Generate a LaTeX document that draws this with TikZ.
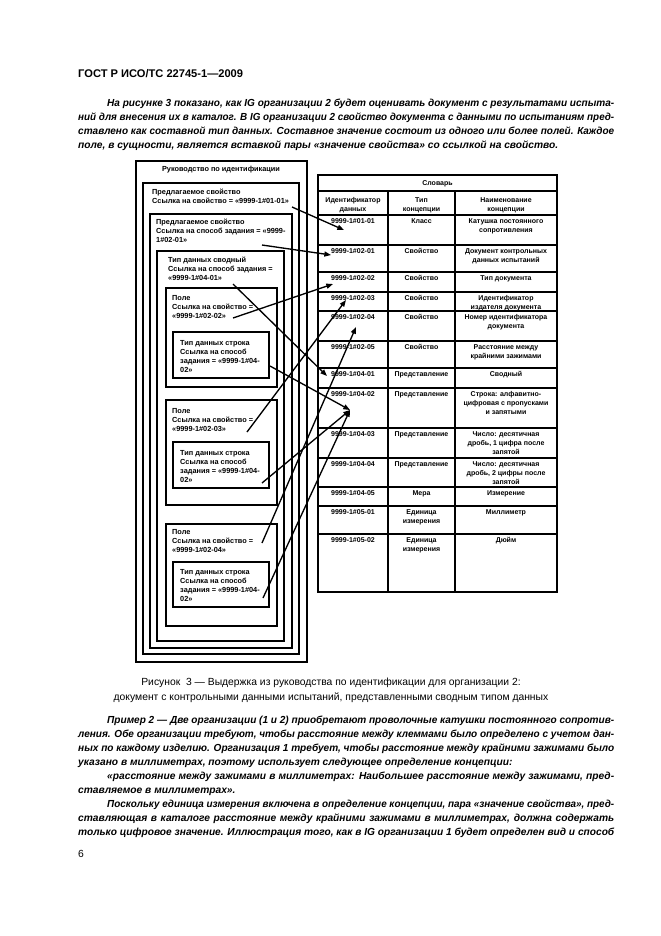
\documentclass[tikz,border=0pt]{standalone}
\usepackage{fontspec}
\usepackage{graphicx}
\setmainfont{Liberation Sans}
\usetikzlibrary{arrows.meta}

% one justified text line of a given width
\newlength\fitw
\newcommand\fitline[2]{\settowidth\fitw{#2}\ifdim\fitw>#1\relax\resizebox{#1}{\height}{#2}\else\makebox[#1][s]{#2}\fi}

\tikzset{
  body/.style={anchor=base west, inner sep=0pt, font=\fontsize{9.2}{11}\selectfont\bfseries\itshape},
  capt/.style={anchor=base, inner sep=0pt, font=\fontsize{9.3}{11}\selectfont},
  frame/.style={line width=1.7pt},
  grid/.style={line width=1.4pt},
  link/.style={line width=1.2pt, -{Triangle[length=6pt,width=4.5pt]}},
  boxtext/.style={anchor=north west, inner sep=0pt, align=left, font=\fontsize{6.6}{8.1}\selectfont\bfseries},
  cell/.style={anchor=north, inner sep=0pt, align=center, font=\fontsize{6.3}{8.1}\selectfont\bfseries},
}

\begin{document}
\begin{tikzpicture}[x=0.9pt,y=-0.9pt]
    \fill[white] (0,0) rectangle (661,936);
    \useasboundingbox (0,0) rectangle (661,936);

    % page text above the figure
    \node[anchor=base west, inner sep=0pt, font=\fontsize{10}{12}\selectfont\bfseries] (head) at (78,77) {ГОСТ Р ИСО/ТС 22745-1—2009};
    \node[body] (par1a) at (107,106.5) {\fitline{456.3pt}{На рисунке 3 показано, как IG организации 2 будет оценивать документ с результатами испыта-}};
    \node[body] (par1b) at (78,120.5) {\fitline{482.4pt}{ний для внесения их в каталог. В IG организации 2 свойство документа с данными по испытаниям пред-}};
    \node[body] (par1c) at (78,134.5) {\fitline{482.4pt}{ставлено как составной тип данных. Составное значение состоит из одного или более полей. Каждое}};
    \node[body] (par1d) at (78,148.5) {поле, в сущности, является вставкой пары «значение свойства» со ссылкой на свойство.};

    % nested frames of the guide
    \draw[frame] (136,161) rectangle (307,662);
    \draw[frame] (143,183) rectangle (299,654);
    \draw[frame] (150,214) rectangle (292,648);
    \draw[frame] (157,251) rectangle (284,641);
    \draw[frame] (166,288) rectangle (277,387);
    \draw[frame] (173,332) rectangle (269,378);
    \draw[frame] (166,400) rectangle (277,505);
    \draw[frame] (173,442) rectangle (269,488);
    \draw[frame] (166,524) rectangle (277,626);
    \draw[frame] (173,562) rectangle (269,607);

    \node[boxtext, anchor=north] (guide) at (221,166) {Руководство по идентификации};
    \node[boxtext] (prop1) at (152,189) {Предлагаемое свойство\\Ссылка на свойство = «9999-1\#01-01»};
    \node[boxtext] (prop2) at (156,219) {Предлагаемое свойство\\Ссылка на способ задания = «9999-\\1\#02-01»};
    \node[boxtext] (comp) at (168,257) {Тип данных сводный\\Ссылка на способ задания =\\«9999-1\#04-01»};
    \node[boxtext] (field1) at (172,295) {Поле\\Ссылка на свойство =\\«9999-1\#02-02»};
    \node[boxtext] (str1) at (180,340) {Тип данных строка\\Ссылка на способ\\задания = «9999-1\#04-\\02»};
    \node[boxtext] (field2) at (172,408) {Поле\\Ссылка на свойство =\\«9999-1\#02-03»};
    \node[boxtext] (str2) at (180,450) {Тип данных строка\\Ссылка на способ\\задания = «9999-1\#04-\\02»};
    \node[boxtext] (field3) at (172,529) {Поле\\Ссылка на свойство =\\«9999-1\#02-04»};
    \node[boxtext] (str3) at (180,569) {Тип данных строка\\Ссылка на способ\\задания = «9999-1\#04-\\02»};

    % dictionary table
    \draw[frame] (318,175) rectangle (557,592);
    \draw[grid] (318,191) -- (557,191);
    \draw[grid] (388,191) -- (388,592);
    \draw[grid] (455,191) -- (455,592);
    \foreach \ry in {215,245,272,292,311,341,368,388,428,458,487,506,534}
        \draw[grid] (318,\ry) -- (557,\ry);
    \node[cell] (dict) at (437.5,180) {Словарь};
    \node[cell] (hid) at (353,197) {Идентификатор\\данных};
    \node[cell] (hkind) at (421.5,197) {Тип\\концепции};
    \node[cell] (hname) at (506,197) {Наименование\\концепции};
    \foreach \ry/\id/\kind/\name in {
        215/01-01/Класс/{Катушка постоянного\\сопротивления},
        245/02-01/Свойство/{Документ контрольных\\данных испытаний},
        272/02-02/Свойство/{Тип документа},
        292/02-03/Свойство/{Идентификатор\\издателя документа},
        311/02-04/Свойство/{Номер идентификатора\\документа},
        341/02-05/Свойство/{Расстояние между\\крайними зажимами},
        368/04-01/Представление/{Сводный},
        388/04-02/Представление/{Строка: алфавитно-\\цифровая с пропусками\\и запятыми},
        428/04-03/Представление/{Число: десятичная\\дробь, 1 цифра после\\запятой},
        458/04-04/Представление/{Число: десятичная\\дробь, 2 цифры после\\запятой},
        487/04-05/Мера/{Измерение},
        506/05-01/{Единица\\измерения}/{Миллиметр},
        534/05-02/{Единица\\измерения}/{Дюйм}}
    {
        \node[cell] (id\id) at (353,\ry+3) {9999-1\#\id};
        \node[cell] (kind\id) at (421.5,\ry+3) {\kind};
        \node[cell] (name\id) at (506,\ry+3) {\name};
    }

    % references into the table
    \coordinate (prop1ref) at (292,207);
    \coordinate (prop2ref) at (262,245);
    \coordinate (compref) at (233,284);
    \coordinate (field1ref) at (233,318);
    \coordinate (str1ref) at (270,366);
    \coordinate (field2ref) at (247,432);
    \coordinate (str2ref) at (262,483);
    \coordinate (field3ref) at (262,543);
    \coordinate (str3ref) at (263,598);
    \coordinate (row0101) at (344,230);
    \coordinate (row0201) at (331,255);
    \coordinate (row0202) at (333,284);
    \coordinate (row0203) at (346,300);
    \coordinate (row0204) at (356,327);
    \coordinate (row0401) at (327,376);
    \coordinate (row0402) at (350,410);
    \draw[link] (prop1ref) -- (row0101);
    \draw[link] (prop2ref) -- (row0201);
    \draw[link] (compref) -- (row0401);
    \draw[link] (field1ref) -- (row0202);
    \draw[link] (str1ref) -- (row0402);
    \draw[link] (field2ref) -- (row0203);
    \draw[link] (str2ref) -- (row0402);
    \draw[link] (field3ref) -- (row0204);
    \draw[link] (str3ref) -- (row0402);

    % caption and text below
    \node[capt] (cap1) at (331,685.5) {Рисунок~~3 — Выдержка из руководства по идентификации для организации 2:};
    \node[capt] (cap2) at (331,700) {документ с контрольными данными испытаний, представленными сводным типом данных};

    \node[body] (par2a) at (107,723.5) {\fitline{456.3pt}{Пример 2 — Две организации (1 и 2) приобретают проволочные катушки постоянного сопротив-}};
    \node[body] (par2b) at (78,737.5) {\fitline{482.4pt}{ления. Обе организации требуют, чтобы расстояние между клеммами было определено с учетом дан-}};
    \node[body] (par2c) at (78,751.5) {\fitline{482.4pt}{ных по каждому изделию. Организация 1 требует, чтобы расстояние между крайними зажимами было}};
    \node[body] (par2d) at (78,765.5) {указано в миллиметрах, поэтому использует следующее определение концепции:};
    \node[body] (par3a) at (107,779.5) {\fitline{456.3pt}{«расстояние между зажимами в миллиметрах: Наибольшее расстояние между зажимами, пред-}};
    \node[body] (par3b) at (78,793.5) {ставляемое в миллиметрах».};
    \node[body] (par4a) at (107,807.5) {\fitline{456.3pt}{Поскольку единица измерения включена в определение концепции, пара «значение свойства», пред-}};
    \node[body] (par4b) at (78,821.5) {\fitline{482.4pt}{ставляющая в каталоге расстояние между крайними зажимами в миллиметрах, должна содержать}};
    \node[body] (par4c) at (78,835.5) {\fitline{482.4pt}{только цифровое значение. Иллюстрация того, как в IG организации 1 будет определен вид и способ}};
    \node[anchor=base west, inner sep=0pt, font=\fontsize{9.3}{11}\selectfont] (pageno) at (78,857) {6};
\end{tikzpicture}
\end{document}
